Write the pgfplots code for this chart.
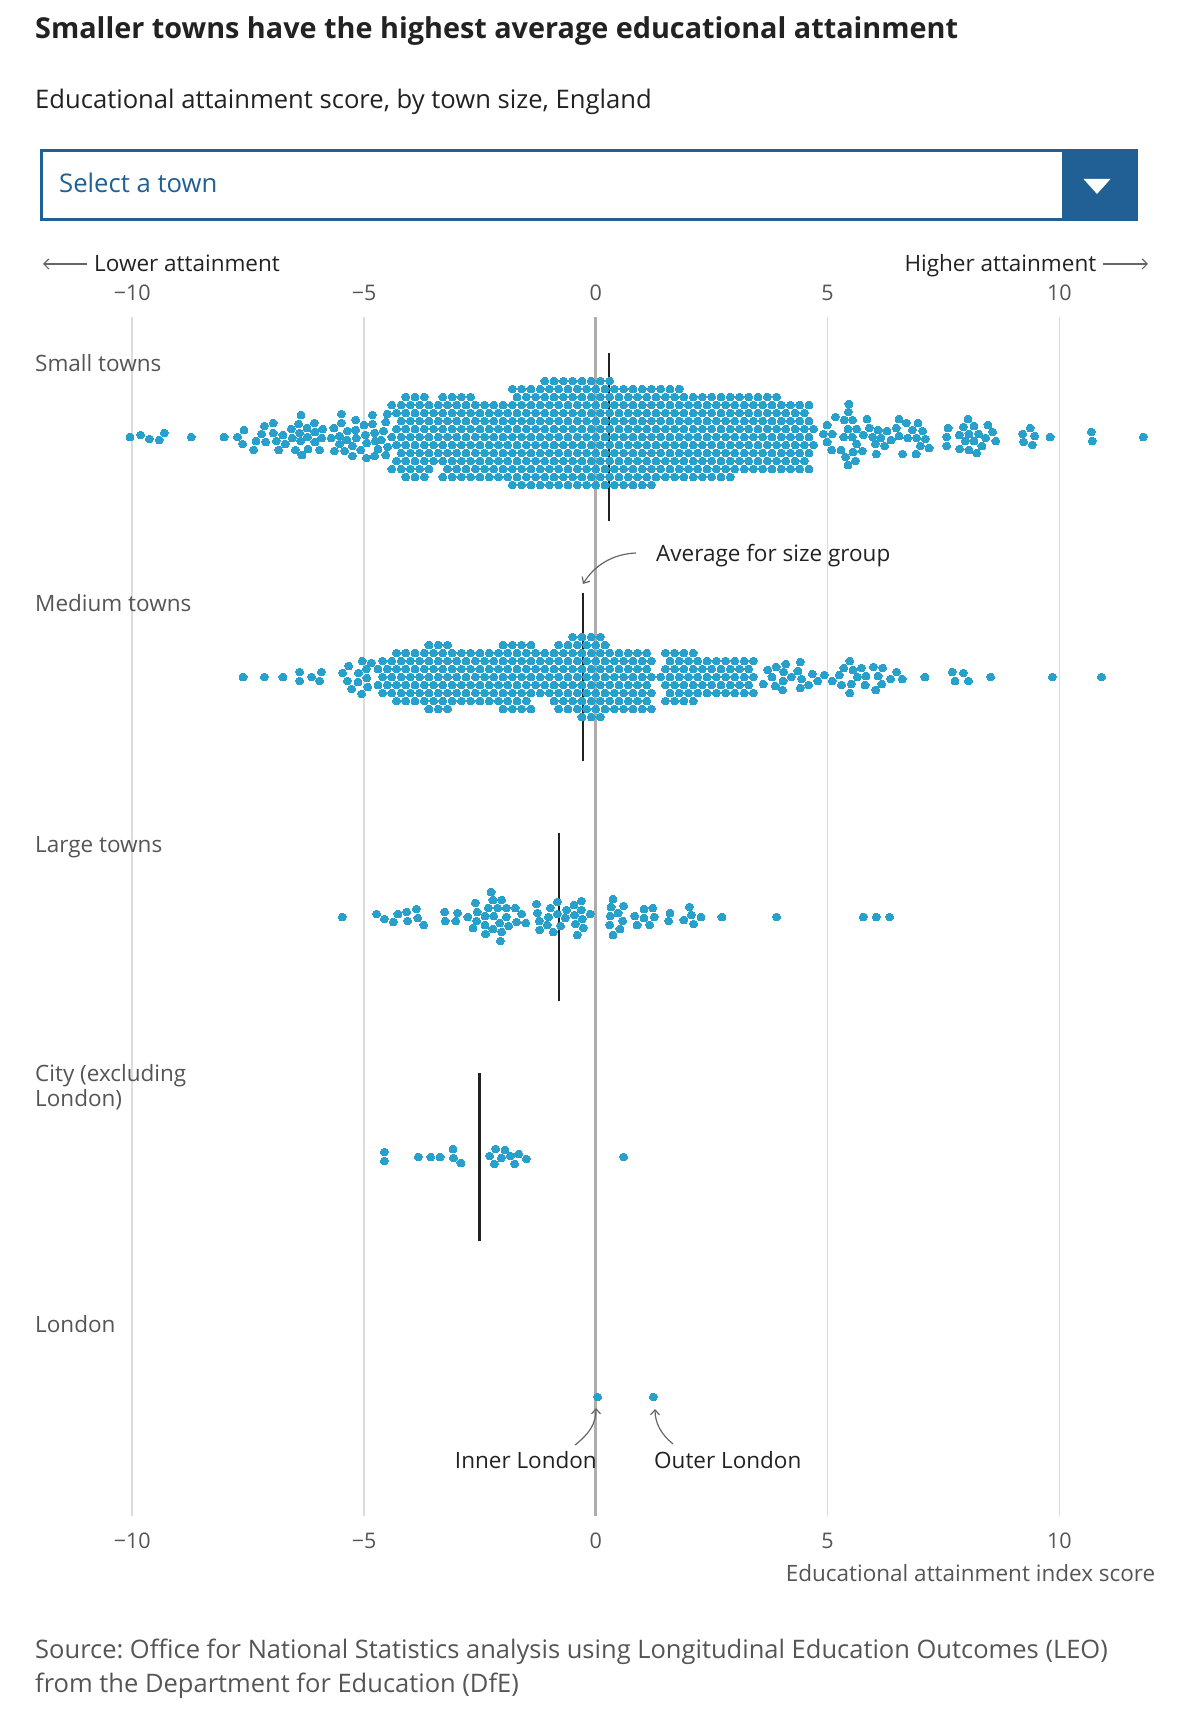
\documentclass[border=0pt]{standalone}
\usepackage{pgfplots}
\pgfplotsset{compat=1.18}
\usepackage{fontspec}
\setmainfont{Open Sans}
\usetikzlibrary{arrows.meta}
\definecolor{dot}{HTML}{27A0CC}
\definecolor{ons}{HTML}{206095}
\definecolor{txt}{HTML}{222222}
\definecolor{lab}{HTML}{555555}
\definecolor{gridc}{HTML}{DCDCDC}
\definecolor{zeroc}{HTML}{ADADAD}
\definecolor{arrc}{HTML}{666666}
\pgfplotsset{sw/.style={only marks, mark=*, mark size=3.95pt, color=dot, mark options={fill=dot, draw=dot, line width=0pt}}}
\newcommand\swrow[2]{\addplot[sw] table[row sep=\\,y expr=#1]{x\\#2};}
\newcommand\labf{\fontsize{22.5}{27}\selectfont}
\newcommand\tickf{\fontsize{21.5}{26}\selectfont}
\frenchspacing
\begin{document}
\begin{tikzpicture}
\begin{axis}[width=1182pt,height=1714pt,scale only axis,xmin=-12.854,xmax=12.647,ymin=-1714,ymax=0,axis lines=none,clip=false]
\path (rel axis cs:0,0) rectangle (rel axis cs:1,1);
% grid lines
\addplot[gridc,line width=1.6pt] coordinates {(-10,-317)(-10,-1516)};
\addplot[gridc,line width=1.6pt] coordinates {(-5,-317)(-5,-1516)};
\addplot[gridc,line width=1.6pt] coordinates {(5,-317)(5,-1516)};
\addplot[gridc,line width=1.6pt] coordinates {(10,-317)(10,-1516)};
% ---------------- Small towns (centre y=-437) ----------------
\swrow{-381}{-1.1\\-0.9\\-0.7\\-0.5\\-0.3\\-0.1\\0.1\\0.3\\}
\swrow{-389}{-1.8\\-1.6\\-1.4\\-1.2\\-1\\-0.8\\-0.6\\-0.4\\-0.2\\0\\0.2\\0.4\\0.6\\0.8\\1\\1.2\\1.4\\1.6\\1.8\\}
\swrow{-397}{-4.1\\-3.9\\-3.7\\-3.3\\-3.1\\-2.9\\-2.7\\-1.7\\-1.5\\-1.3\\-1.1\\-0.9\\-0.7\\-0.5\\-0.3\\-0.1\\0.1\\0.3\\0.5\\0.7\\0.9\\1.1\\1.3\\1.5\\1.7\\1.9\\2.1\\2.3\\2.5\\2.7\\2.9\\3.1\\3.3\\3.5\\3.7\\3.9\\}
\swrow{-405}{-4.4\\-4.2\\-4\\-3.8\\-3.6\\-3.4\\-3.2\\-3\\-2.8\\-2.6\\-2.4\\-2.2\\-2\\-1.8\\-1.6\\-1.4\\-1.2\\-1\\-0.8\\-0.6\\-0.4\\-0.2\\0\\0.2\\0.4\\0.6\\0.8\\1\\1.2\\1.4\\1.6\\1.8\\2\\2.2\\2.4\\2.6\\2.8\\3\\3.2\\3.4\\3.6\\3.8\\4\\4.2\\4.4\\4.6\\}
\swrow{-413}{-4.3\\-4.1\\-3.9\\-3.7\\-3.5\\-3.3\\-3.1\\-2.9\\-2.7\\-2.5\\-2.3\\-2.1\\-1.9\\-1.7\\-1.5\\-1.3\\-1.1\\-0.9\\-0.7\\-0.5\\-0.3\\-0.1\\0.1\\0.3\\0.5\\0.7\\0.9\\1.1\\1.3\\1.5\\1.7\\1.9\\2.1\\2.3\\2.5\\2.7\\2.9\\3.1\\3.3\\3.5\\3.7\\3.9\\4.1\\4.3\\4.5\\}
\swrow{-421}{-4.2\\-4\\-3.8\\-3.6\\-3.4\\-3.2\\-3\\-2.8\\-2.6\\-2.4\\-2.2\\-2\\-1.8\\-1.6\\-1.4\\-1.2\\-1\\-0.8\\-0.6\\-0.4\\-0.2\\0\\0.2\\0.4\\0.6\\0.8\\1\\1.2\\1.4\\1.6\\1.8\\2\\2.2\\2.4\\2.6\\2.8\\3\\3.2\\3.4\\3.6\\3.8\\4\\4.2\\4.4\\4.6\\}
\swrow{-429}{-4.3\\-4.1\\-3.9\\-3.7\\-3.5\\-3.3\\-3.1\\-2.9\\-2.7\\-2.5\\-2.3\\-2.1\\-1.9\\-1.7\\-1.5\\-1.3\\-1.1\\-0.9\\-0.7\\-0.5\\-0.3\\-0.1\\0.1\\0.3\\0.5\\0.7\\0.9\\1.1\\1.3\\1.5\\1.7\\1.9\\2.1\\2.3\\2.5\\2.7\\2.9\\3.1\\3.3\\3.5\\3.7\\3.9\\4.1\\4.3\\4.5\\4.7\\}
\swrow{-437}{-4.4\\-4.2\\-4\\-3.8\\-3.6\\-3.4\\-3.2\\-3\\-2.8\\-2.6\\-2.4\\-2.2\\-2\\-1.8\\-1.6\\-1.4\\-1.2\\-1\\-0.8\\-0.6\\-0.4\\-0.2\\0\\0.2\\0.4\\0.6\\0.8\\1\\1.2\\1.4\\1.6\\1.8\\2\\2.2\\2.4\\2.6\\2.8\\3\\3.2\\3.4\\3.6\\3.8\\4\\4.2\\4.4\\4.6\\}
\swrow{-445}{-4.3\\-4.1\\-3.9\\-3.7\\-3.5\\-3.3\\-3.1\\-2.9\\-2.7\\-2.5\\-2.3\\-2.1\\-1.9\\-1.7\\-1.5\\-1.3\\-1.1\\-0.9\\-0.7\\-0.5\\-0.3\\-0.1\\0.1\\0.3\\0.5\\0.7\\0.9\\1.1\\1.3\\1.5\\1.7\\1.9\\2.1\\2.3\\2.5\\2.7\\2.9\\3.1\\3.3\\3.5\\3.7\\3.9\\4.1\\4.3\\4.5\\4.7\\}
\swrow{-453}{-4.2\\-4\\-3.8\\-3.6\\-3.4\\-3.2\\-3\\-2.8\\-2.6\\-2.4\\-2.2\\-2\\-1.8\\-1.6\\-1.4\\-1.2\\-1\\-0.8\\-0.6\\-0.4\\-0.2\\0\\0.2\\0.4\\0.6\\0.8\\1\\1.2\\1.4\\1.6\\1.8\\2\\2.2\\2.4\\2.6\\2.8\\3\\3.2\\3.4\\3.6\\3.8\\4\\4.2\\4.4\\4.6\\}
\swrow{-461}{-4.3\\-4.1\\-3.9\\-3.7\\-3.5\\-3.3\\-3.1\\-2.9\\-2.7\\-2.5\\-2.3\\-2.1\\-1.9\\-1.7\\-1.5\\-1.3\\-1.1\\-0.9\\-0.7\\-0.5\\-0.3\\-0.1\\0.1\\0.3\\0.5\\0.7\\0.9\\1.1\\1.3\\1.5\\1.7\\1.9\\2.1\\2.3\\2.5\\2.7\\2.9\\3.1\\3.3\\3.5\\3.7\\3.9\\4.1\\4.3\\4.5\\}
\swrow{-469}{-4.4\\-4.2\\-4\\-3.8\\-3.6\\-3.2\\-3\\-2.8\\-2.6\\-2.4\\-2.2\\-2\\-1.8\\-1.6\\-1.4\\-1.2\\-1\\-0.8\\-0.6\\-0.4\\-0.2\\0\\0.2\\0.4\\0.6\\0.8\\1\\1.2\\1.4\\1.6\\1.8\\2\\2.2\\2.4\\2.6\\2.8\\3\\3.2\\3.4\\3.6\\3.8\\4\\4.2\\4.4\\4.6\\}
\swrow{-477}{-4.1\\-3.9\\-3.7\\-3.3\\-3.1\\-2.9\\-2.7\\-2.5\\-2.3\\-2.1\\-1.9\\-1.7\\-1.5\\-1.3\\-1.1\\-0.9\\-0.7\\-0.5\\-0.3\\-0.1\\0.1\\0.3\\0.5\\0.7\\0.9\\1.1\\1.3\\1.5\\1.7\\1.9\\2.1\\2.3\\2.5\\2.7\\2.9\\}
\swrow{-485}{-1.8\\-1.6\\-1.4\\-1.2\\-1\\-0.8\\-0.6\\-0.4\\-0.2\\0\\0.2\\0.4\\0.6\\0.8\\1\\1.2\\}
\addplot[sw] coordinates {(-10.05,-437)(-9.82,-435)(-9.63,-439)(-9.42,-440)(-9.31,-433)(-8.73,-437)(-8.02,-437)(-7.73,-437)(-7.62,-444)(-7.59,-430)(-7.38,-450)(-7.33,-441)(-7.21,-434)(-7.15,-426)(-7.12,-442)(-6.96,-423)(-6.96,-433)(-6.89,-441)(-6.84,-450)(-6.75,-435)(-6.70,-444)(-6.57,-429)(-6.55,-438)(-6.48,-450)(-6.41,-424)(-6.39,-433)(-6.37,-441)(-6.36,-415)(-6.34,-455)(-6.23,-428)(-6.22,-437)(-6.21,-449)(-6.07,-423)(-6.06,-432)(-6.06,-442)(-5.96,-450)(-5.89,-429)(-5.91,-438)(-5.71,-438)(-5.65,-428)(-5.64,-451)(-5.53,-436)(-5.53,-444)(-5.49,-414)(-5.49,-423)(-5.42,-451)(-5.36,-431)(-5.37,-440)(-5.25,-446)(-5.25,-456)(-5.18,-420)(-5.18,-430)(-5.17,-438)(-5.07,-450)(-5.00,-425)(-4.97,-435)(-4.95,-458)(-4.94,-443)(-4.82,-415)(-4.82,-424)(-4.77,-433)(-4.77,-456)(-4.76,-441)(-4.70,-449)(-4.63,-440)(-4.58,-431)(-4.53,-422)(-4.53,-455)(-4.50,-414)(-4.49,-447)};
\addplot[sw] coordinates {(4.91,-434)(4.99,-442)(4.99,-425)(5.10,-434)(5.09,-450)(5.17,-417)(5.29,-450)(5.36,-420)(5.35,-437)(5.39,-457)(5.44,-465)(5.46,-404)(5.45,-412)(5.44,-429)(5.53,-437)(5.54,-420)(5.55,-452)(5.60,-461)(5.63,-429)(5.63,-444)(5.75,-451)(5.77,-435)(5.85,-419)(5.90,-428)(5.97,-437)(6.03,-444)(6.05,-454)(6.09,-430)(6.15,-438)(6.23,-446)(6.28,-431)(6.37,-440)(6.48,-428)(6.54,-419)(6.54,-436)(6.62,-454)(6.70,-423)(6.73,-438)(6.83,-430)(6.91,-454)(6.92,-438)(6.95,-423)(7.00,-446)(7.05,-431)(7.11,-439)(7.19,-448)(7.60,-428)(7.57,-437)(7.57,-446)(7.84,-435)(7.85,-449)(7.93,-427)(7.97,-441)(8.03,-419)(8.05,-434)(8.05,-450)(8.16,-426)(8.16,-441)(8.22,-453)(8.26,-434)(8.33,-446)(8.41,-438)(8.46,-425)(8.56,-432)(8.63,-441)(9.21,-434)(9.23,-442)(9.37,-428)(9.42,-445)(9.47,-436)(9.80,-437)(10.69,-432)(10.71,-441)(11.81,-437)};
% ---------------- Medium towns (centre y=-677) ----------------
\swrow{-637}{-0.5\\-0.3\\-0.1\\0.1\\}
\swrow{-645}{-3.6\\-3.4\\-3.2\\-2\\-1.8\\-1.6\\-1.4\\-0.8\\-0.6\\-0.4\\-0.2\\0\\0.2\\}
\swrow{-653}{-4.3\\-4.1\\-3.9\\-3.7\\-3.5\\-3.3\\-3.1\\-2.9\\-2.7\\-2.5\\-2.3\\-2.1\\-1.9\\-1.7\\-1.5\\-1.3\\-1.1\\-0.9\\-0.7\\-0.5\\-0.3\\-0.1\\0.1\\0.3\\0.5\\0.7\\0.9\\1.1\\1.5\\1.7\\1.9\\2.1\\}
\swrow{-661}{-4.6\\-4.4\\-4.2\\-4\\-3.8\\-3.6\\-3.4\\-3.2\\-3\\-2.8\\-2.6\\-2.4\\-2.2\\-2\\-1.8\\-1.6\\-1.4\\-1.2\\-1\\-0.8\\-0.6\\-0.4\\-0.2\\0\\0.2\\0.4\\0.6\\0.8\\1\\1.2\\1.6\\1.8\\2\\2.2\\2.4\\2.6\\2.8\\3\\3.2\\3.4\\}
\swrow{-669}{-4.7\\-4.5\\-4.3\\-4.1\\-3.9\\-3.7\\-3.5\\-3.3\\-3.1\\-2.9\\-2.7\\-2.5\\-2.3\\-2.1\\-1.9\\-1.7\\-1.5\\-1.3\\-1.1\\-0.9\\-0.7\\-0.5\\-0.3\\-0.1\\0.1\\0.3\\0.5\\0.7\\0.9\\1.1\\1.5\\1.7\\1.9\\2.1\\2.3\\2.5\\2.7\\2.9\\3.1\\3.3\\}
\swrow{-677}{-4.6\\-4.4\\-4.2\\-4\\-3.8\\-3.6\\-3.4\\-3.2\\-3\\-2.8\\-2.6\\-2.4\\-2.2\\-2\\-1.8\\-1.6\\-1.4\\-1.2\\-1\\-0.8\\-0.6\\-0.4\\-0.2\\0\\0.2\\0.4\\0.6\\0.8\\1\\1.2\\1.4\\1.6\\1.8\\2\\2.2\\2.4\\2.6\\2.8\\3\\3.2\\3.4\\}
\swrow{-685}{-4.7\\-4.5\\-4.3\\-4.1\\-3.9\\-3.7\\-3.5\\-3.3\\-3.1\\-2.9\\-2.7\\-2.5\\-2.3\\-2.1\\-1.9\\-1.7\\-1.5\\-1.3\\-1.1\\-0.9\\-0.7\\-0.5\\-0.3\\-0.1\\0.1\\0.3\\0.5\\0.7\\0.9\\1.1\\1.5\\1.7\\1.9\\2.1\\2.3\\2.5\\2.7\\2.9\\3.1\\3.3\\}
\swrow{-693}{-4.6\\-4.4\\-4.2\\-4\\-3.8\\-3.6\\-3.4\\-3.2\\-3\\-2.8\\-2.6\\-2.4\\-2.2\\-2\\-1.8\\-1.6\\-1.4\\-1.2\\-1\\-0.8\\-0.6\\-0.4\\-0.2\\0\\0.2\\0.4\\0.6\\0.8\\1\\1.2\\1.6\\1.8\\2\\2.2\\2.4\\2.6\\2.8\\3\\3.2\\3.4\\}
\swrow{-701}{-4.3\\-4.1\\-3.9\\-3.7\\-3.5\\-3.3\\-3.1\\-2.9\\-2.7\\-2.5\\-2.3\\-2.1\\-1.9\\-1.7\\-1.5\\-0.9\\-0.7\\-0.5\\-0.3\\-0.1\\0.1\\0.3\\0.5\\0.7\\0.9\\1.1\\1.5\\1.7\\1.9\\2.1\\}
\swrow{-709}{-3.6\\-3.4\\-3.2\\-2\\-1.8\\-1.6\\-1.4\\-0.8\\-0.6\\-0.4\\-0.2\\0\\0.2\\0.4\\0.6\\0.8\\1\\1.2\\}
\swrow{-717}{-0.3\\-0.1\\0.1\\}
\addplot[sw] coordinates {(-7.61,-677)(-7.15,-677)(-6.75,-677)(-6.39,-672)(-6.39,-681)(-6.13,-677)(-5.96,-681)(-5.92,-672)(-5.46,-673)(-5.36,-681)(-5.33,-666)(-5.27,-689)(-5.13,-682)(-5.12,-673)(-5.04,-661)(-5.05,-694)(-4.95,-669)(-4.94,-678)(-4.92,-687)(-4.84,-663)};
\addplot[sw] coordinates {(3.61,-684)(3.71,-670)(3.80,-677)(3.87,-686)(3.89,-667)(4.03,-690)(4.04,-681)(4.05,-672)(4.10,-664)(4.22,-677)(4.36,-671)(4.41,-662)(4.41,-688)(4.44,-679)(4.59,-685)(4.67,-674)(4.79,-681)(4.93,-675)(5.10,-681)(5.25,-675)(5.30,-685)(5.35,-668)(5.48,-661)(5.51,-684)(5.48,-693)(5.55,-670)(5.64,-677)(5.73,-668)(5.81,-685)(5.83,-676)(5.99,-667)(6.04,-690)(6.09,-676)(6.17,-684)(6.19,-668)(6.36,-679)(6.49,-672)(6.61,-679)(7.10,-677)(7.69,-672)(7.75,-681)(7.93,-673)(8.04,-681)(8.52,-677)(9.85,-677)(10.91,-677)};
% ---------------- Large towns (centre y=-917) ----------------
\addplot[sw] coordinates {(-5.47,-917)(-4.73,-914)(-4.56,-919)(-4.37,-922)(-4.27,-914)(-4.08,-912)(-4.06,-921)(-3.87,-909)(-3.84,-918)(-3.71,-925)(-3.26,-912)(-3.25,-921)(-3.02,-921)(-2.98,-913)(-2.76,-917)(-2.65,-928)(-2.60,-903)(-2.56,-912)(-2.57,-921)(-2.39,-916)(-2.39,-925)(-2.38,-934)(-2.32,-908)(-2.26,-892)(-2.22,-900)(-2.20,-916)(-2.22,-929)(-2.12,-908)(-2.07,-923)(-2.03,-900)(-2.03,-932)(-2.06,-941)(-1.93,-908)(-1.93,-917)(-1.88,-926)(-1.74,-908)(-1.71,-922)(-1.60,-914)(-1.51,-923)(-1.28,-904)(-1.26,-913)(-1.22,-921)(-1.21,-930)(-1.05,-925)(-1.02,-917)(-0.98,-908)(-0.92,-932)(-0.83,-902)(-0.83,-914)(-0.76,-926)(-0.66,-918)(-0.63,-910)(-0.47,-905)(-0.46,-915)(-0.44,-924)(-0.40,-935)(-0.31,-901)(-0.31,-910)(-0.29,-919)(-0.27,-928)(-0.12,-914)(0.37,-899)(0.33,-907)(0.31,-916)(0.30,-925)(0.37,-935)(0.48,-913)(0.52,-929)(0.60,-906)(0.58,-921)(0.84,-916)(0.89,-925)(1.04,-909)(1.04,-918)(1.16,-925)(1.23,-908)(1.26,-917)(1.60,-913)(1.57,-921)(1.90,-920)(2.02,-907)(2.06,-915)(2.11,-924)(2.27,-917)(2.72,-917)(3.90,-917)(5.77,-917)(6.05,-917)(6.34,-917)};
% ---------------- City (centre y=-1157) ----------------
\addplot[sw] coordinates {(-4.56,-1152)(-4.56,-1161)(-3.83,-1157)(-3.56,-1157)(-3.36,-1157)(-3.08,-1149)(-3.07,-1158)(-2.91,-1163)(-2.29,-1156)(-2.19,-1164)(-2.16,-1149)(-2.04,-1158)(-1.96,-1150)(-1.84,-1156)(-1.75,-1164)(-1.66,-1154)(-1.50,-1159)(0.60,-1157)};
% ---------------- London (centre y=-1397) ----------------
\addplot[sw] coordinates {(0.04,-1397)(1.24,-1397)};
% zero line
\addplot[zeroc,line width=3pt] coordinates {(0,-317)(0,-1516)};
% group averages
\addplot[txt,line width=2.3pt] coordinates {(0.28,-353)(0.28,-521)};
\addplot[txt,line width=2.3pt] coordinates {(-0.27,-593)(-0.27,-761)};
\addplot[txt,line width=2.3pt] coordinates {(-0.80,-833)(-0.80,-1001)};
\addplot[txt,line width=2.3pt] coordinates {(-2.51,-1073)(-2.51,-1241)};
% tick labels
\foreach \v/\t in {-10/−10,-5/−5,0/0,5/5,10/10}{
  \edef\temp{\noexpand\node[anchor=base,inner sep=0,text=lab,font=\noexpand\tickf] at (axis cs:\v,-301) {\t};
  \noexpand\node[anchor=base,inner sep=0,text=lab,font=\noexpand\tickf] at (axis cs:\v,-1549) {\t};}
  \temp
}
\end{axis}
\begin{scope}[x=1pt,y=-1pt,yshift=1714pt]
\node[anchor=base west,inner sep=0,text=txt,font=\fontsize{28.8}{32}\selectfont\bfseries] at (35,39) {Smaller towns have the highest average educational attainment};
\node[anchor=base west,inner sep=0,text=txt,font=\fontsize{25.6}{30}\selectfont] at (35,109) {Educational attainment score, by town size, England};
\draw[ons,line width=3pt] (41.5,150.5) rectangle (1136.5,219.5);
\fill[ons] (1061.5,149) rectangle (1138,221);
\fill[white] (1083.5,179) -- (1110.5,179) -- (1097,194) -- cycle;
\node[anchor=base west,inner sep=0,text=ons,font=\fontsize{25.7}{30}\selectfont] at (59,193) {Select a town};
\draw[arrc,line width=1.2pt,-{Straight Barb[length=5pt,width=10pt]}] (87,264) -- (43,264);
\node[anchor=base west,inner sep=0,text=txt,font=\labf] at (94,272) {Lower attainment};
\node[anchor=base east,inner sep=0,text=txt,font=\labf] at (1096.5,272) {Higher attainment};
\draw[arrc,line width=1.2pt,-{Straight Barb[length=5pt,width=10pt]}] (1103,264) -- (1148,264);
\node[anchor=base west,inner sep=0,text=lab,font=\labf] at (35,372) {Small towns};
\node[anchor=base west,inner sep=0,text=lab,font=\labf] at (35,612) {Medium towns};
\node[anchor=base west,inner sep=0,text=lab,font=\labf] at (35,853) {Large towns};
\node[anchor=base west,inner sep=0,text=lab,font=\labf] at (35,1082) {City (excluding};
\node[anchor=base west,inner sep=0,text=lab,font=\labf] at (35,1107) {London)};
\node[anchor=base west,inner sep=0,text=lab,font=\labf] at (35,1333) {London};
\node[anchor=base west,inner sep=0,text=txt,font=\labf] at (656,562) {Average for size group};
\draw[arrc,line width=1.2pt,-{Straight Barb[length=5pt,width=9pt]}] (636,553) .. controls (612,554) and (594,566) .. (583,584);
\node[anchor=base east,inner sep=0,text=txt,font=\labf] at (597,1469) {Inner London};
\node[anchor=base west,inner sep=0,text=txt,font=\labf] at (654,1469) {Outer London};
\draw[arrc,line width=1.2pt,-{Straight Barb[length=5pt,width=9pt]}] (575,1445) .. controls (589,1434) and (596,1424) .. (596,1408);
\draw[arrc,line width=1.2pt,-{Straight Barb[length=5pt,width=9pt]}] (673,1444) .. controls (662,1435) and (655,1424) .. (655,1409);
\node[anchor=base east,inner sep=0,text=lab,font=\labf] at (1155.5,1582) {Educational attainment index score};
\node[anchor=base west,inner sep=0,text=lab,font=\fontsize{25.5}{30}\selectfont] at (35,1659) {Source: Office for National Statistics analysis using Longitudinal Education Outcomes (LEO)};
\node[anchor=base west,inner sep=0,text=lab,font=\fontsize{25.5}{30}\selectfont] at (35,1693) {from the Department for Education (DfE)};
\end{scope}
\end{tikzpicture}
\end{document}
